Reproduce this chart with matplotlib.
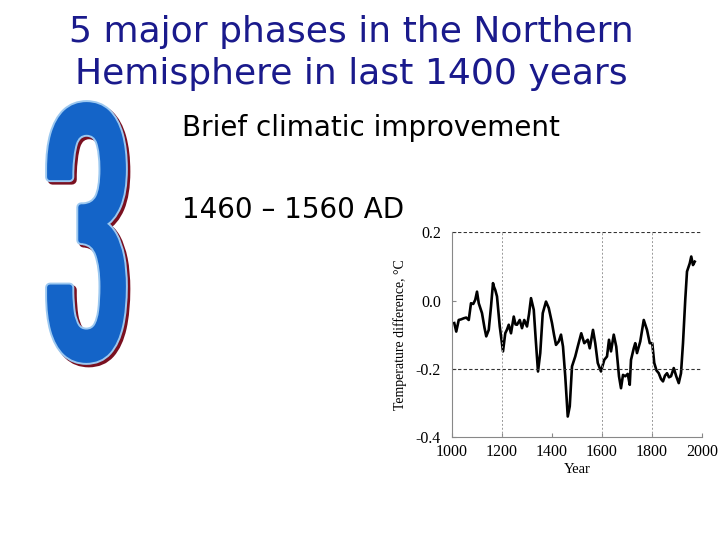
import matplotlib
matplotlib.use("Agg")
import matplotlib.pyplot as plt
from matplotlib.textpath import TextPath
from matplotlib.font_manager import FontProperties
from matplotlib.patches import PathPatch
from matplotlib.transforms import Affine2D

title_lines = ["5 major phases in the Northern", "Hemisphere in last 1400 years"]
body_lines = ["Brief climatic improvement", "1460 \u2013 1560 AD"]
big_number = "3"

years = [1009, 1017, 1027, 1037, 1047, 1057, 1067, 1076, 1085, 1093, 1100, 1107, 1120,
         1130, 1137, 1147, 1156, 1164, 1168, 1173, 1180, 1191, 1204, 1213, 1220, 1227,
         1236, 1247, 1254, 1260, 1271, 1280, 1289, 1300, 1308, 1316, 1327, 1335, 1344,
         1353, 1363, 1376, 1387, 1400, 1408, 1416, 1427, 1436, 1444, 1453, 1463, 1471,
         1480, 1493, 1503, 1517, 1529, 1543, 1551, 1564, 1573, 1583, 1596, 1609, 1620,
         1628, 1636, 1647, 1657, 1668, 1676, 1684, 1693, 1703, 1711, 1716, 1727, 1733,
         1740, 1753, 1767, 1780, 1791, 1801, 1809, 1818, 1827, 1836, 1844, 1852, 1860,
         1868, 1876, 1887, 1897, 1907, 1916, 1924, 1933, 1940, 1951, 1957, 1964, 1971]
temps = [-0.066, -0.091, -0.057, -0.055, -0.052, -0.050, -0.057, -0.008, -0.010, 0.002,
         0.026, -0.008, -0.037, -0.080, -0.105, -0.086, -0.018, 0.051, 0.040, 0.031,
         0.012, -0.076, -0.149, -0.096, -0.085, -0.071, -0.096, -0.047, -0.070, -0.071,
         -0.057, -0.081, -0.057, -0.076, -0.040, 0.007, -0.027, -0.115, -0.208, -0.154,
         -0.037, -0.003, -0.022, -0.066, -0.100, -0.130, -0.120, -0.100, -0.135, -0.222,
         -0.340, -0.310, -0.193, -0.164, -0.135, -0.096, -0.125, -0.115, -0.140, -0.086,
         -0.125, -0.183, -0.208, -0.174, -0.164, -0.115, -0.149, -0.100, -0.135, -0.222,
         -0.257, -0.218, -0.222, -0.215, -0.247, -0.174, -0.140, -0.125, -0.154, -0.120,
         -0.057, -0.086, -0.125, -0.125, -0.183, -0.205, -0.213, -0.230, -0.237, -0.220,
         -0.213, -0.225, -0.222, -0.198, -0.222, -0.242, -0.213, -0.125, 0.002, 0.085,
         0.109, 0.129, 0.104, 0.114]

x_ticks = [1000, 1200, 1400, 1600, 1800, 2000]
y_ticks = [0.2, 0.0, -0.2, -0.4]
y_tick_labels = ["0.2", "0.0", "-0.2", "-0.4"]

W, H = 720, 540
fig = plt.figure(figsize=(7.2, 5.4), dpi=100)
fig.patch.set_facecolor("white")

navy = "#1a1a8c"
fig.text(351 / W, 1 - 32 / H, title_lines[0], ha="center", va="center",
         fontsize=26, color=navy, family="DejaVu Sans")
fig.text(351 / W, 1 - 74 / H, title_lines[1], ha="center", va="center",
         fontsize=26, color=navy, family="DejaVu Sans")
fig.text(182 / W, 1 - 128 / H, body_lines[0], ha="left", va="center",
         fontsize=20, color="black", family="DejaVu Sans")
fig.text(182 / W, 1 - 210 / H, body_lines[1], ha="left", va="center",
         fontsize=20, color="black", family="DejaVu Sans")

# Big "3" (decorative number, heavier stroke built from outlines)
tp = TextPath((0, 0), big_number,
              prop=FontProperties(family="Oswald", weight="bold"))
ext = tp.get_extents()
def box_transform(x0, y0, x1, y1):
    sx = (x1 - x0) / W / ext.width
    sy = (y1 - y0) / H / ext.height
    return (Affine2D().translate(-ext.x0, -ext.y0).scale(sx, sy)
            .translate(x0 / W, 1 - y1 / H) + fig.transFigure)
g = (50, 105, 123, 360)
shadow_t = box_transform(g[0] + 2.5, g[1] + 2.5, g[2] + 2.5, g[3] + 2.5)
main_t = box_transform(*g)
fig.add_artist(PathPatch(tp, transform=shadow_t, facecolor="#7a1020",
                         edgecolor="#7a1020", lw=7, joinstyle="round"))
fig.add_artist(PathPatch(tp, transform=main_t, facecolor="#9cc8f0",
                         edgecolor="#9cc8f0", lw=7, joinstyle="round"))
fig.add_artist(PathPatch(tp, transform=main_t, facecolor="#1464c8",
                         edgecolor="#1464c8", lw=4.2, joinstyle="round"))

# chart
ax = fig.add_axes([452 / W, 1 - 437 / H, 250 / W, (437 - 232.3) / H])
ax.plot(years, temps, color="black", lw=1.9, solid_joinstyle="round")
ax.set_xlim(1000, 2000)
ax.set_ylim(-0.4, 0.2)
for yv in [0.2, -0.2]:
    ax.axhline(yv, color="#333333", lw=0.8, ls=(0, (3, 2)))
for xv in [1200, 1600, 1800]:
    ax.axvline(xv, color="#999999", lw=0.7, ls=(0, (2, 2)))
for s in ["top", "right"]:
    ax.spines[s].set_visible(False)
for s in ["left", "bottom"]:
    ax.spines[s].set_color("#888888")
    ax.spines[s].set_linewidth(0.8)
ax.set_xticks(x_ticks)
ax.set_xticklabels([str(x) for x in x_ticks], family="Liberation Serif", fontsize=11.5)
ax.set_yticks(y_ticks)
ax.set_yticklabels(y_tick_labels, family="Liberation Serif", fontsize=11.5)
ax.tick_params(axis="y", direction="in", length=3, color="#888888", pad=8)
ax.tick_params(axis="x", direction="in", length=3, color="#888888", pad=5)
ax.set_xlabel("Year", family="Liberation Serif", fontsize=10.5, labelpad=2)
ax.set_ylabel("Temperature difference, \u00b0C", family="Liberation Serif",
              fontsize=10, labelpad=6)

fig.savefig("out.png", dpi=100, facecolor="white")
